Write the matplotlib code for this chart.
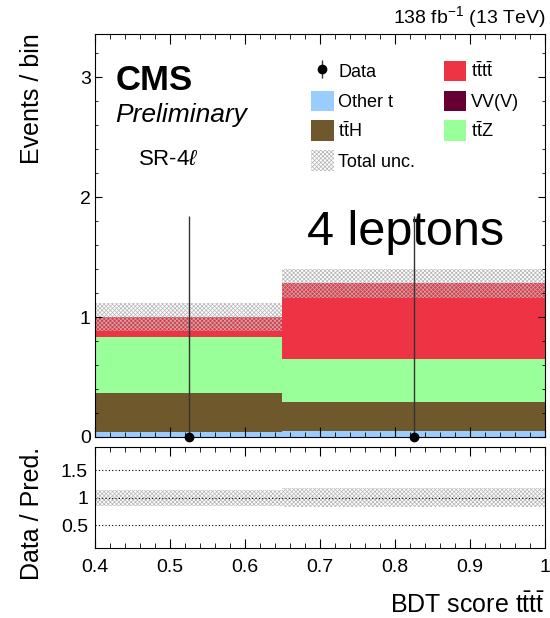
import numpy as np
import matplotlib
matplotlib.use("Agg")
import matplotlib.pyplot as plt
from matplotlib.ticker import MultipleLocator
from matplotlib.patches import Patch

plt.rcParams['font.family'] = ['Liberation Sans', 'DejaVu Sans']
plt.rcParams['mathtext.fontset'] = 'custom'
plt.rcParams['mathtext.rm'] = 'Liberation Sans'
plt.rcParams['mathtext.it'] = 'Liberation Sans:italic'
plt.rcParams['mathtext.bf'] = 'Liberation Sans:bold'
plt.rcParams['hatch.linewidth'] = 0.5

# binning of the BDT score
bin_edges = [0.4, 0.65, 1.0]

# stacked backgrounds / signal, bottom to top
other_t = [0.042, 0.048]
vvv = [0.0, 0.0]
tth = [0.328, 0.242]
ttz = [0.46, 0.36]
tttt = [0.17, 0.63]
total_unc = [0.12, 0.117]

data = [0, 0]
data_err_up = [1.84, 1.84]
ratio_unc = [0.145, 0.17]

tbar = r'$\mathrm{\bar{t}}$'
procs = [
    ("Other t", other_t, '#99ccff'),
    ("VV(V)", vvv, '#660033'),
    ("t" + tbar + "H", tth, '#6f592c'),
    ("t" + tbar + "Z", ttz, '#99ff99'),
    ("t" + tbar + "t" + tbar, tttt, '#ee3344'),
]
hatch_col = '#b4b4b4'

edges = np.array(bin_edges)
widths = np.diff(edges)
centers = edges[:-1] + widths / 2

fig = plt.figure(figsize=(5.5, 6.18), dpi=100)
ax = fig.add_axes([0.1727, 0.2929, 0.818, 0.652])
rax = fig.add_axes([0.1727, 0.1133, 0.818, 0.1634])

bottom = np.zeros(len(centers))
handles = {}
for name, vals, color in procs:
    vals = np.array(vals)
    ax.bar(edges[:-1], vals, width=widths, bottom=bottom, align='edge',
           color=color, linewidth=0)
    handles[name] = Patch(facecolor=color, edgecolor='none')
    bottom = bottom + vals

total = bottom
unc = np.array(total_unc)
ax.bar(edges[:-1], 2 * unc, width=widths, bottom=total - unc, align='edge',
       facecolor='none', edgecolor=hatch_col, hatch='xxxxxxxx', linewidth=0)
unc_handle = Patch(facecolor='none', edgecolor=hatch_col, hatch='xxxxxxxx', linewidth=0)

eb = ax.errorbar(centers, data, yerr=[np.zeros(len(data)), data_err_up],
                 fmt='o', color='black', ecolor='#333333', ms=6, elinewidth=1,
                 capsize=0, zorder=5)
eb.lines[0].set_clip_on(False)

ax.set_xlim(0.4, 1.0)
ax.set_ylim(0, 3.36)
ax.xaxis.set_major_locator(MultipleLocator(0.1))
ax.xaxis.set_minor_locator(MultipleLocator(0.02))
ax.yaxis.set_major_locator(MultipleLocator(1))
ax.yaxis.set_minor_locator(MultipleLocator(0.2))
ax.tick_params(axis='both', which='both', direction='in', top=True, right=True)
ax.tick_params(axis='x', which='major', length=7.5, labelbottom=False)
ax.tick_params(axis='x', which='minor', length=3.8)
ax.tick_params(axis='y', which='major', length=5, labelsize=14, pad=3)
ax.tick_params(axis='y', which='minor', length=2.5)

order = [eb, handles["Other t"], handles["t" + tbar + "H"], unc_handle,
         handles["t" + tbar + "t" + tbar], handles["VV(V)"], handles["t" + tbar + "Z"]]
labels = ["Data", "Other t", "t" + tbar + "H", "Total unc.",
          "t" + tbar + "t" + tbar, "VV(V)", "t" + tbar + "Z"]
ax.legend(order, labels, ncol=2, loc='upper left', bbox_to_anchor=(0.48, 0.934),
          frameon=False, fontsize=13, handlelength=1.25, handleheight=1.4,
          handletextpad=0.25, columnspacing=1.6, labelspacing=0.5,
          borderpad=0, borderaxespad=0)

ax.text(0.045, 0.885, "CMS", transform=ax.transAxes, fontsize=25,
        fontweight='bold', va='center', ha='left')
ax.text(0.045, 0.8, "Preliminary", transform=ax.transAxes, fontsize=19,
        style='italic', va='center', ha='left')
ax.text(0.095, 0.69, r"SR-4$\ell$", transform=ax.transAxes, fontsize=16,
        va='center', ha='left')
ax.text(0.472, 0.508, "4 leptons", transform=ax.transAxes, fontsize=35,
        va='center', ha='left')

# ratio panel
rax.bar(edges[:-1], 2 * np.array(ratio_unc), width=widths,
        bottom=1 - np.array(ratio_unc), align='edge', facecolor='none',
        edgecolor=hatch_col, hatch='xxxxxxxx', linewidth=0)
for yv in (0.5, 1.0, 1.5):
    rax.axhline(yv, color='black', linestyle=(0, (1, 2)), linewidth=0.8)
rax.set_xlim(0.4, 1.0)
rax.set_ylim(0.08, 1.93)
rax.xaxis.set_major_locator(MultipleLocator(0.1))
rax.xaxis.set_minor_locator(MultipleLocator(0.02))
rax.set_yticks([0.5, 1.0, 1.5])
rax.set_yticklabels(["0.5", "1", "1.5"])
rax.tick_params(axis='both', which='both', direction='in', top=True, right=True)
rax.tick_params(axis='x', which='major', length=6.5, labelsize=14, pad=8)
rax.tick_params(axis='x', which='minor', length=3.3)
rax.tick_params(axis='y', which='major', length=0, labelsize=14, pad=5)
rax.set_xticks(np.arange(0.4, 1.001, 0.1))
rax.set_xticklabels(["0.4", "0.5", "0.6", "0.7", "0.8", "0.9", "1"])

fig.text(0.991, 0.972, r"138 fb$^{-1}$ (13 TeV)", ha='right', va='center', fontsize=14)
fig.text(0.991, 0.021, "BDT score t" + tbar + "t" + tbar, ha='right', va='center', fontsize=18)
fig.text(0.058, 0.947, "Events / bin", rotation=90, ha='center', va='top', fontsize=18)
fig.text(0.058, 0.277, "Data / Pred.", rotation=90, ha='center', va='top', fontsize=18)

fig.savefig("out.png", dpi=100)
